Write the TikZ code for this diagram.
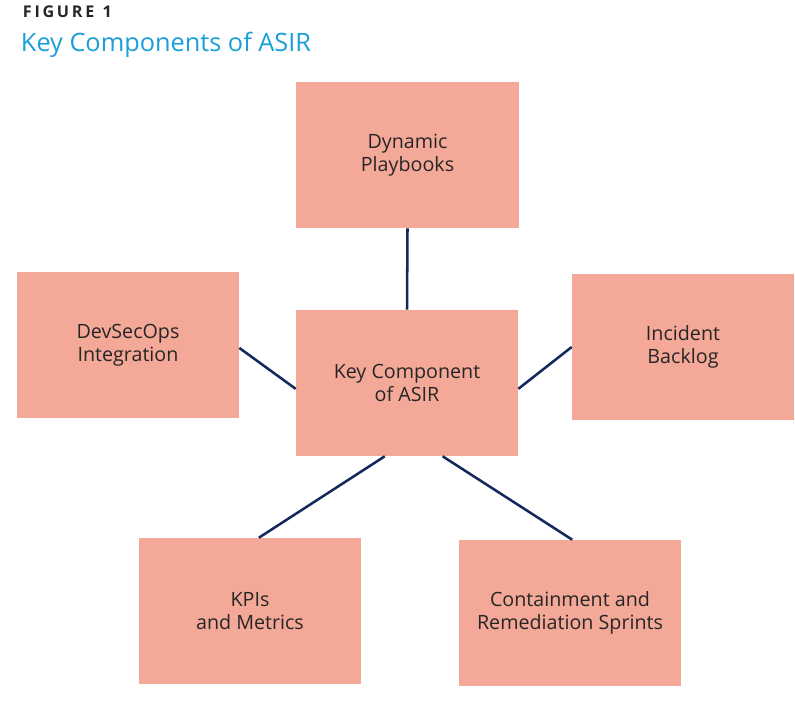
\documentclass[tikz,border=0pt]{standalone}
\usepackage{fontspec}
\setmainfont{Open Sans}
\usetikzlibrary{calc}
\definecolor{boxfill}{HTML}{F4A898}
\definecolor{linknavy}{HTML}{14285E}
\definecolor{titleblue}{HTML}{1A9FDA}
\tikzset{
  part/.style={fill=boxfill, minimum width=5.55cm, minimum height=3.65cm,
    align=center, font=\fontsize{14}{16.5}\selectfont, text=black!85, inner sep=0pt},
  link/.style={draw=linknavy, line width=1.8pt}
}
\begin{document}
\begin{tikzpicture}[x=0.025cm,y=-0.025cm]
  \useasboundingbox (0,0) rectangle (795,720);
  % title
  \node[anchor=west, font=\bfseries\fontsize{11.5}{13}\selectfont, text=black!85] (fig) at (18,12) {F\,I\,G\,U\,R\,E\ \ 1};
  \node[anchor=west, font=\fontsize{18}{21}\selectfont, text=titleblue] (title) at (16,45) {Key Components of ASIR};
  % boxes
  \node[part] (core) at (407,383) {Key Component\\of ASIR};
  \node[part] (play) at (407.5,155) {Dynamic\\Playbooks};
  \node[part] (dev) at (128,345) {DevSecOps\\Integration};
  \node[part] (backlog) at (683,347) {Incident\\Backlog};
  \node[part] (kpi) at (250,611) {KPIs\\and Metrics};
  \node[part] (sprint) at (570,613) {Containment and\\Remediation Sprints};
  % connectors
  \draw[link] (play.south) -- (core.north);
  \draw[link] ($(dev.north east)!0.52!(dev.south east)$) -- ($(core.north west)!0.54!(core.south west)$);
  \draw[link] ($(core.north east)!0.54!(core.south east)$) -- ($(backlog.north west)!0.5!(backlog.south west)$);
  \draw[link] ($(core.south west)!0.4!(core.south east)$) -- ($(kpi.north west)!0.54!(kpi.north east)$);
  \draw[link] ($(core.south west)!0.66!(core.south east)$) -- ($(sprint.north west)!0.51!(sprint.north east)$);
\end{tikzpicture}
\end{document}
